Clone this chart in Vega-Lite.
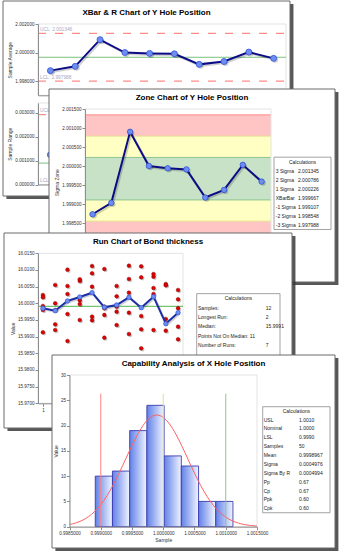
{
"$schema": "https://vega.github.io/schema/vega-lite/v6.json",
"background": "white",
"padding": 0,
"config": {
  "view": {"stroke": null},
  "font": "Liberation Sans",
  "axis": {"labelFont": "Liberation Sans", "titleFont": "Liberation Sans", "labelFontSize": 4.6, "titleFontSize": 5, "titleFontWeight": "normal", "labelColor": "#333333", "titleColor": "#333333", "domainColor": "#8c8c8c", "tickColor": "#8c8c8c", "tickSize": 3, "labelPadding": 1, "titlePadding": 2, "grid": false, "labelFlush": false, "labelOverlap": false, "zindex": 1},
  "text": {"font": "Liberation Sans", "fontSize": 5, "color": "#222222"}
},
"datasets": {
  "xbar": [{"sample":1,"value":1.99873},{"sample":2,"value":1.99903},{"sample":3,"value":2.0009},{"sample":4,"value":2.0},{"sample":5,"value":1.99994},{"sample":6,"value":1.99991},{"sample":7,"value":1.99917},{"sample":8,"value":1.99937},{"sample":9,"value":2.00003},{"sample":10,"value":1.99959}],
  "xbarLimits": [{"name":"UCL","value":2.001346,"label":"UCL: 2.001346"},{"name":"LCL","value":1.997988,"label":"LCL: 1.997988"}],
  "rng": [{"sample":1,"range":0.00124},{"sample":2,"range":0.00052},{"sample":3,"range":0.00081},{"sample":4,"range":0.00139},{"sample":5,"range":0.00035},{"sample":6,"range":0.00098},{"sample":7,"range":0.00066},{"sample":8,"range":0.00112},{"sample":9,"range":0.00047},{"sample":10,"range":0.00139}],
  "rngLimits": [{"name":"UCL","value":0.002918,"label":"UCL"},{"name":"LCL","value":0,"label":"LCL"}],
  "zones": [{"lo":2.000786,"hi":2.001345,"zone":"outer"},{"lo":2.000226,"hi":2.000786,"zone":"middle"},{"lo":1.999107,"hi":2.000226,"zone":"inner"},{"lo":1.998548,"hi":1.999107,"zone":"middle"},{"lo":1.997988,"hi":1.998548,"zone":"outer"}],
  "zoneLines": [{"value":2.001345,"kind":"3"},{"value":2.000786,"kind":"2"},{"value":2.000226,"kind":"1"},{"value":1.999107,"kind":"1"},{"value":1.998548,"kind":"2"},{"value":1.997988,"kind":"3"}],
  "zoneCalc": [{"row":0,"label":"Calculations","value":""},{"row":1,"label":"3 Sigma","value":"2.001345"},{"row":2,"label":"2 Sigma","value":"2.000786"},{"row":3,"label":"1 Sigma","value":"2.000226"},{"row":4,"label":"XBarBar","value":"1.999667"},{"row":5,"label":"-1 Sigma","value":"1.999107"},{"row":6,"label":"-2 Sigma","value":"1.998548"},{"row":7,"label":"-3 Sigma","value":"1.997988"}],
  "bond": [
    {"sample":1,"value":16.00249},{"sample":1,"value":16.0018},{"sample":1,"value":15.99919},{"sample":1,"value":15.99799},{"sample":1,"value":15.9913},
    {"sample":2,"value":16.00549},{"sample":2,"value":16.0},{"sample":2,"value":15.99799},{"sample":2,"value":15.9937},{"sample":2,"value":15.99199},
    {"sample":3,"value":16.01008},{"sample":3,"value":16.00519},{"sample":3,"value":16.00279},{"sample":3,"value":15.99679},{"sample":3,"value":15.98869},
    {"sample":4,"value":16.00669},{"sample":4,"value":16.0072},{"sample":4,"value":16.0009},{"sample":4,"value":15.99979},{"sample":4,"value":15.99499},
    {"sample":5,"value":16.01119},{"sample":5,"value":16.009},{"sample":5,"value":16.00498},{"sample":5,"value":15.99598},{"sample":5,"value":15.9949},
    {"sample":6,"value":16.01029},{"sample":6,"value":15.9985},{"sample":6,"value":15.98968},{"sample":6,"value":15.999},{"sample":6,"value":15.9965},
    {"sample":7,"value":16.00519},{"sample":7,"value":16.0021},{"sample":7,"value":15.99898},{"sample":7,"value":15.99748},{"sample":7,"value":15.99349},
    {"sample":8,"value":16.01128},{"sample":8,"value":16.00729},{"sample":8,"value":16.00318},{"sample":8,"value":15.99718},{"sample":8,"value":15.99079},
    {"sample":9,"value":16.0111},{"sample":9,"value":16.0078},{"sample":9,"value":15.99619},{"sample":9,"value":15.9922},{"sample":9,"value":15.9865},
    {"sample":10,"value":16.00879},{"sample":10,"value":16.00798},{"sample":10,"value":16.00459},{"sample":10,"value":16.00279},{"sample":10,"value":15.99199},
    {"sample":11,"value":16.00579},{"sample":11,"value":16.0054},{"sample":11,"value":15.99529},{"sample":11,"value":15.99178},{"sample":11,"value":15.9712},
    {"sample":12,"value":16.00399},{"sample":12,"value":16.0012},{"sample":12,"value":15.99298},{"sample":12,"value":15.9892},{"sample":12,"value":15.99853}],
  "bondMeans": [{"sample":1,"value":15.9985},{"sample":2,"value":15.99778},{"sample":3,"value":16.00069},{"sample":4,"value":16.00189},{"sample":5,"value":16.00318},{"sample":6,"value":15.9988},{"sample":7,"value":15.99949},{"sample":8,"value":16.0018},{"sample":9,"value":15.99868},{"sample":10,"value":16.00198},{"sample":11,"value":15.99388},{"sample":12,"value":15.99718}],
  "runCalc": [{"row":0,"label":"Calculations","value":""},{"row":1,"label":"Samples:","value":"12"},{"row":2,"label":"Longest Run:","value":"2"},{"row":3,"label":"Median:","value":"15.9991"},{"row":4,"label":"Points Not On Median: 11","value":""},{"row":5,"label":"Number of Runs:","value":"7"}],
  "hist": [{"start":0.998912,"end":0.999187,"count":10},{"start":0.999187,"end":0.999463,"count":11},{"start":0.999463,"end":0.999738,"count":19},{"start":0.999738,"end":1.000014,"count":24},{"start":1.000014,"end":1.000289,"count":14},{"start":1.000289,"end":1.000565,"count":12},{"start":1.000565,"end":1.00084,"count":5},{"start":1.00084,"end":1.001115,"count":5}],
  "curve": [{"x":0.9985,"y":0.43},{"x":0.9986,"y":0.74},{"x":0.9987,"y":1.23},{"x":0.9988,"y":1.95},{"x":0.9989,"y":2.97},{"x":0.999,"y":4.35},{"x":0.9991,"y":6.13},{"x":0.9992,"y":8.29},{"x":0.9993,"y":10.76},{"x":0.9994,"y":13.42},{"x":0.9995,"y":16.07},{"x":0.9996,"y":18.48},{"x":0.9997,"y":20.42},{"x":0.9998,"y":21.67},{"x":0.9999,"y":22.08},{"x":1.0,"y":21.61},{"x":1.0001,"y":20.31},{"x":1.0002,"y":18.34},{"x":1.0003,"y":15.9},{"x":1.0004,"y":13.24},{"x":1.0005,"y":10.59},{"x":1.0006,"y":8.13},{"x":1.0007,"y":6.0},{"x":1.0008,"y":4.25},{"x":1.0009,"y":2.89},{"x":1.001,"y":1.89},{"x":1.0011,"y":1.19},{"x":1.0012,"y":0.72},{"x":1.0013,"y":0.41},{"x":1.0014,"y":0.23},{"x":1.0015,"y":0.12}],
  "specs": [{"name":"LSL","value":0.999},{"name":"Nominal","value":1.0},{"name":"USL","value":1.001}],
  "capCalc": [{"row":0,"label":"Calculations","value":""},{"row":1,"label":"USL","value":"1.0010"},{"row":2,"label":"Nominal","value":"1.0000"},{"row":3,"label":"LSL","value":"0.9990"},{"row":4,"label":"Samples","value":"50"},{"row":5,"label":"Mean","value":"0.9998967"},{"row":6,"label":"Sigma","value":"0.0004976"},{"row":7,"label":"Sigma By R","value":"0.0004994"},{"row":8,"label":"Pp","value":"0.67"},{"row":9,"label":"Cp","value":"0.67"},{"row":10,"label":"Ppk","value":"0.60"},{"row":11,"label":"Cpk","value":"0.60"}]
},
"spacing": 0,
"bounds": "flush",
"vconcat": [
 {
  "width": 340, "height": 89,
  "resolve": {"scale": {"x": "independent", "y": "independent"}},
  "layer": [
   {"layer": [
    {"data": {"values": [{}]}, "mark": {"type": "rect", "fill": "#3a3a3a", "opacity": 0.85},
     "encoding": {"x": {"datum": 0.012, "type": "quantitative", "scale": {"domain": [0, 1], "range": [3, 290], "nice": false, "zero": false}, "axis": null}, "x2": {"datum": 1.012}, "y": {"datum": 0.016, "type": "quantitative", "scale": {"domain": [0, 1], "range": [1, 196], "nice": false, "zero": false}, "axis": null}, "y2": {"datum": 1.016}}},
    {"data": {"values": [{}]}, "mark": {"type": "rect", "fill": "white", "stroke": "#6a6a6a", "strokeWidth": 1},
     "encoding": {"x": {"datum": 0, "type": "quantitative", "scale": {"domain": [0, 1], "range": [3, 290], "nice": false, "zero": false}, "axis": null}, "x2": {"datum": 1}, "y": {"datum": 0, "type": "quantitative", "scale": {"domain": [0, 1], "range": [1, 196], "nice": false, "zero": false}, "axis": null}, "y2": {"datum": 1}}},
    {"data": {"values": [{"title": "XBar & R Chart of Y Hole Position"}]}, "mark": {"type": "text", "fontSize": 8, "fontWeight": "bold", "color": "#000000", "align": "center", "baseline": "middle"},
     "encoding": {"x": {"datum": 0.5, "type": "quantitative", "scale": {"domain": [0, 1], "range": [3, 290], "nice": false, "zero": false}, "axis": null}, "y": {"datum": 0.0615, "type": "quantitative", "scale": {"domain": [0, 1], "range": [1, 196], "nice": false, "zero": false}, "axis": null}, "text": {"field": "title"}}}
   ]},
   {"layer": [
    {"data": {"values": [{}]}, "mark": {"type": "rect", "fillOpacity": 0, "stroke": "#e3e3e3", "strokeWidth": 1},
     "encoding": {"x": {"datum": 0.5, "type": "quantitative", "scale": {"domain": [0.5, 10.5], "range": [38, 286], "nice": false, "zero": false}, "axis": {"orient": "bottom", "offset": 6.3, "labels": false, "ticks": false, "title": null, "zindex": 1, "labelOverlap": false, "tickCount": 30}}, "x2": {"datum": 10.5}, "y": {"datum": 1.997, "type": "quantitative", "scale": {"domain": [1.997, 2.002], "range": [95.3, 24], "nice": false, "zero": false}, "axis": {"orient": "left", "offset": -38, "values": [1.998, 2.0, 2.002], "format": ".6f", "title": "Sample Average", "zindex": 1, "labelOverlap": false, "tickCount": 30}}, "y2": {"datum": 2.002}}},
    {"data": {"values": [{"value": 1.999667}]}, "mark": {"type": "rule", "stroke": "#7cc27c", "strokeWidth": 1},
     "encoding": {"x": {"datum": 0.5, "type": "quantitative", "scale": {"domain": [0.5, 10.5], "range": [38, 286], "nice": false, "zero": false}}, "x2": {"datum": 10.5}, "y": {"field": "value", "type": "quantitative", "scale": {"domain": [1.997, 2.002], "range": [95.3, 24], "nice": false, "zero": false}}}},
    {"data": {"name": "xbarLimits"}, "mark": {"type": "rule", "stroke": "#ff8a8a", "strokeWidth": 1.3, "strokeDash": [8, 9]},
     "encoding": {"x": {"datum": 0.5, "type": "quantitative", "scale": {"domain": [0.5, 10.5], "range": [38, 286], "nice": false, "zero": false}}, "x2": {"datum": 10.5}, "y": {"field": "value", "type": "quantitative", "scale": {"domain": [1.997, 2.002], "range": [95.3, 24], "nice": false, "zero": false}}}},
    {"data": {"name": "xbarLimits"}, "mark": {"type": "text", "align": "left", "baseline": "bottom", "dy": -1.5, "fontSize": 4.8, "color": "#a7a7c2"},
     "encoding": {"x": {"datum": 0.58, "type": "quantitative", "scale": {"domain": [0.5, 10.5], "range": [38, 286], "nice": false, "zero": false}}, "y": {"field": "value", "type": "quantitative", "scale": {"domain": [1.997, 2.002], "range": [95.3, 24], "nice": false, "zero": false}}, "text": {"field": "label"}}},
    {"data": {"name": "xbar"}, "mark": {"type": "line", "stroke": "#000000", "strokeOpacity": 0.18, "strokeWidth": 2, "xOffset": 1.5, "yOffset": 1.5},
     "encoding": {"x": {"field": "sample", "type": "quantitative", "scale": {"domain": [0.5, 10.5], "range": [38, 286], "nice": false, "zero": false}}, "y": {"field": "value", "type": "quantitative", "scale": {"domain": [1.997, 2.002], "range": [95.3, 24], "nice": false, "zero": false}}}},
    {"data": {"name": "xbar"}, "mark": {"type": "line", "stroke": "#0c0c86", "strokeWidth": 2},
     "encoding": {"x": {"field": "sample", "type": "quantitative", "scale": {"domain": [0.5, 10.5], "range": [38, 286], "nice": false, "zero": false}}, "y": {"field": "value", "type": "quantitative", "scale": {"domain": [1.997, 2.002], "range": [95.3, 24], "nice": false, "zero": false}}}},
    {"data": {"name": "xbar"}, "mark": {"type": "circle", "fill": "#000000", "opacity": 0.2, "size": 36, "xOffset": 1.5, "yOffset": 1.5},
     "encoding": {"x": {"field": "sample", "type": "quantitative", "scale": {"domain": [0.5, 10.5], "range": [38, 286], "nice": false, "zero": false}}, "y": {"field": "value", "type": "quantitative", "scale": {"domain": [1.997, 2.002], "range": [95.3, 24], "nice": false, "zero": false}}}},
    {"data": {"name": "xbar"}, "mark": {"type": "circle", "fill": "#6d8df0", "stroke": "#3253d6", "strokeWidth": 0.8, "size": 36, "opacity": 1},
     "encoding": {"x": {"field": "sample", "type": "quantitative", "scale": {"domain": [0.5, 10.5], "range": [38, 286], "nice": false, "zero": false}}, "y": {"field": "value", "type": "quantitative", "scale": {"domain": [1.997, 2.002], "range": [95.3, 24], "nice": false, "zero": false}}}}
   ]},
   {"layer": [
    {"data": {"values": [{}]}, "mark": {"type": "rect", "fillOpacity": 0, "stroke": "#e3e3e3", "strokeWidth": 1},
     "encoding": {"x": {"datum": 0.5, "type": "quantitative", "scale": {"domain": [0.5, 10.5], "range": [38, 286], "nice": false, "zero": false}, "axis": {"orient": "bottom", "offset": 95.5, "values": [1,2,3,4,5,6,7,8,9,10], "format": "d", "title": null, "zindex": 1, "labelOverlap": false, "tickCount": 30}}, "x2": {"datum": 10.5}, "y": {"datum": 0, "type": "quantitative", "scale": {"domain": [0, 0.0034], "range": [184.5, 103], "nice": false, "zero": false}, "axis": {"orient": "left", "offset": -38, "values": [0, 0.001, 0.002, 0.003], "format": ".6f", "title": "Sample Range", "zindex": 1, "labelOverlap": false, "tickCount": 30}}, "y2": {"datum": 0.0034}}},
    {"data": {"values": [{"value": 0.000893}]}, "mark": {"type": "rule", "stroke": "#7cc27c", "strokeWidth": 1},
     "encoding": {"x": {"datum": 0.5, "type": "quantitative", "scale": {"domain": [0.5, 10.5], "range": [38, 286], "nice": false, "zero": false}}, "x2": {"datum": 10.5}, "y": {"field": "value", "type": "quantitative", "scale": {"domain": [0, 0.0034], "range": [184.5, 103], "nice": false, "zero": false}}}},
    {"data": {"name": "rngLimits"}, "transform": [{"filter": "datum.name == 'UCL'"}], "mark": {"type": "rule", "stroke": "#ff8a8a", "strokeWidth": 1.3, "strokeDash": [8, 9]},
     "encoding": {"x": {"datum": 0.5, "type": "quantitative", "scale": {"domain": [0.5, 10.5], "range": [38, 286], "nice": false, "zero": false}}, "x2": {"datum": 10.5}, "y": {"field": "value", "type": "quantitative", "scale": {"domain": [0, 0.0034], "range": [184.5, 103], "nice": false, "zero": false}}}},
    {"data": {"name": "rngLimits"}, "mark": {"type": "text", "align": "left", "baseline": "bottom", "dy": -1.5, "fontSize": 4.8, "color": "#a7a7c2"},
     "encoding": {"x": {"datum": 0.58, "type": "quantitative", "scale": {"domain": [0.5, 10.5], "range": [38, 286], "nice": false, "zero": false}}, "y": {"field": "value", "type": "quantitative", "scale": {"domain": [0, 0.0034], "range": [184.5, 103], "nice": false, "zero": false}}, "text": {"field": "label"}}},
    {"data": {"name": "rng"}, "mark": {"type": "line", "stroke": "#0c0c86", "strokeWidth": 2},
     "encoding": {"x": {"field": "sample", "type": "quantitative", "scale": {"domain": [0.5, 10.5], "range": [38, 286], "nice": false, "zero": false}}, "y": {"field": "range", "type": "quantitative", "scale": {"domain": [0, 0.0034], "range": [184.5, 103], "nice": false, "zero": false}}}},
    {"data": {"name": "rng"}, "mark": {"type": "circle", "fill": "#6d8df0", "stroke": "#3253d6", "strokeWidth": 0.8, "size": 36, "opacity": 1},
     "encoding": {"x": {"field": "sample", "type": "quantitative", "scale": {"domain": [0.5, 10.5], "range": [38, 286], "nice": false, "zero": false}}, "y": {"field": "range", "type": "quantitative", "scale": {"domain": [0, 0.0034], "range": [184.5, 103], "nice": false, "zero": false}}}}
   ]}
  ]
 },
 {
  "width": 340, "height": 144,
  "resolve": {"scale": {"x": "independent", "y": "independent"}},
  "layer": [
   {"layer": [
    {"data": {"values": [{}]}, "mark": {"type": "rect", "fill": "#3a3a3a", "opacity": 0.85},
     "encoding": {"x": {"datum": 0.012, "type": "quantitative", "scale": {"domain": [0, 1], "range": [49, 335], "nice": false, "zero": false}, "axis": null}, "x2": {"datum": 1.012}, "y": {"datum": 0.016, "type": "quantitative", "scale": {"domain": [0, 1], "range": [0, 193], "nice": false, "zero": false}, "axis": null}, "y2": {"datum": 1.016}}},
    {"data": {"values": [{}]}, "mark": {"type": "rect", "fill": "white", "stroke": "#6a6a6a", "strokeWidth": 1},
     "encoding": {"x": {"datum": 0, "type": "quantitative", "scale": {"domain": [0, 1], "range": [49, 335], "nice": false, "zero": false}, "axis": null}, "x2": {"datum": 1}, "y": {"datum": 0, "type": "quantitative", "scale": {"domain": [0, 1], "range": [0, 193], "nice": false, "zero": false}, "axis": null}, "y2": {"datum": 1}}},
    {"data": {"values": [{"title": "Zone Chart of Y Hole Position"}]}, "mark": {"type": "text", "fontSize": 8, "fontWeight": "bold", "color": "#000000", "align": "center", "baseline": "middle"},
     "encoding": {"x": {"datum": 0.5, "type": "quantitative", "scale": {"domain": [0, 1], "range": [49, 335], "nice": false, "zero": false}, "axis": null}, "y": {"datum": 0.0466, "type": "quantitative", "scale": {"domain": [0, 1], "range": [0, 193], "nice": false, "zero": false}, "axis": null}, "text": {"field": "title"}}}
   ]},
   {"layer": [
    {"data": {"name": "zones"}, "mark": {"type": "rect"},
     "encoding": {
      "x": {"datum": 0.6, "type": "quantitative", "scale": {"domain": [0.6, 10.5], "range": [85, 271], "nice": false, "zero": false}, "axis": {"orient": "bottom", "offset": 22.3, "values": [1,2,3,4,5,6,7,8,9,10], "format": "d", "title": null, "zindex": 1, "labelOverlap": false, "tickCount": 30}},
      "x2": {"datum": 10.5},
      "y": {"field": "lo", "type": "quantitative", "scale": {"domain": [1.99765, 2.0015], "range": [166.3, 20], "nice": false, "zero": false}, "axis": {"orient": "left", "offset": -85, "values": [1.998, 1.9985, 1.999, 1.9995, 2.0, 2.0005, 2.001, 2.0015], "format": ".6f", "title": "Sigma Zone", "zindex": 1, "labelOverlap": false, "tickCount": 30}},
      "y2": {"field": "hi"},
      "fill": {"field": "zone", "type": "nominal", "scale": {"domain": ["outer", "middle", "inner"], "range": ["#ffc5c5", "#ffffc3", "#c7e2c7"]}, "legend": null}}},
    {"data": {"name": "zoneLines"}, "mark": {"type": "rule", "strokeWidth": 1},
     "encoding": {
      "x": {"datum": 0.6, "type": "quantitative", "scale": {"domain": [0.6, 10.5], "range": [85, 271], "nice": false, "zero": false}},
      "x2": {"datum": 10.5},
      "y": {"field": "value", "type": "quantitative", "scale": {"domain": [1.99765, 2.0015], "range": [166.3, 20], "nice": false, "zero": false}},
      "stroke": {"field": "kind", "type": "nominal", "scale": {"domain": ["3", "2", "1"], "range": ["#ff8484", "#e6df8c", "#8dc58d"]}, "legend": null}}},
    {"data": {"values": [{}]}, "mark": {"type": "rect", "fillOpacity": 0, "stroke": "#e3e3e3", "strokeWidth": 1},
     "encoding": {"x": {"datum": 0.6, "type": "quantitative", "scale": {"domain": [0.6, 10.5], "range": [85, 271], "nice": false, "zero": false}}, "x2": {"datum": 10.5}, "y": {"datum": 1.99765, "type": "quantitative", "scale": {"domain": [1.99765, 2.0015], "range": [166.3, 20], "nice": false, "zero": false}}, "y2": {"datum": 2.0015}}},
    {"data": {"name": "xbar"}, "mark": {"type": "line", "stroke": "#000000", "strokeOpacity": 0.18, "strokeWidth": 2, "xOffset": 1.5, "yOffset": 1.5},
     "encoding": {"x": {"field": "sample", "type": "quantitative", "scale": {"domain": [0.6, 10.5], "range": [85, 271], "nice": false, "zero": false}}, "y": {"field": "value", "type": "quantitative", "scale": {"domain": [1.99765, 2.0015], "range": [166.3, 20], "nice": false, "zero": false}}}},
    {"data": {"name": "xbar"}, "mark": {"type": "line", "stroke": "#0c0c86", "strokeWidth": 2},
     "encoding": {"x": {"field": "sample", "type": "quantitative", "scale": {"domain": [0.6, 10.5], "range": [85, 271], "nice": false, "zero": false}}, "y": {"field": "value", "type": "quantitative", "scale": {"domain": [1.99765, 2.0015], "range": [166.3, 20], "nice": false, "zero": false}}}},
    {"data": {"name": "xbar"}, "mark": {"type": "circle", "fill": "#000000", "opacity": 0.2, "size": 30, "xOffset": 1.5, "yOffset": 1.5},
     "encoding": {"x": {"field": "sample", "type": "quantitative", "scale": {"domain": [0.6, 10.5], "range": [85, 271], "nice": false, "zero": false}}, "y": {"field": "value", "type": "quantitative", "scale": {"domain": [1.99765, 2.0015], "range": [166.3, 20], "nice": false, "zero": false}}}},
    {"data": {"name": "xbar"}, "mark": {"type": "circle", "fill": "#6d8df0", "stroke": "#3253d6", "strokeWidth": 0.8, "size": 30, "opacity": 1},
     "encoding": {"x": {"field": "sample", "type": "quantitative", "scale": {"domain": [0.6, 10.5], "range": [85, 271], "nice": false, "zero": false}}, "y": {"field": "value", "type": "quantitative", "scale": {"domain": [1.99765, 2.0015], "range": [166.3, 20], "nice": false, "zero": false}}}}
   ]},
   {"layer": [
    {"data": {"values": [{}]}, "mark": {"type": "rect", "fill": "white", "stroke": "#8c8c8c", "strokeWidth": 0.8},
     "encoding": {"x": {"datum": 0, "type": "quantitative", "scale": {"domain": [0, 1], "range": [274, 331], "nice": false, "zero": false}, "axis": null}, "x2": {"datum": 1}, "y": {"datum": -0.5, "type": "quantitative", "scale": {"domain": [0, 7], "range": [72.7, 136], "nice": false, "zero": false}, "axis": null}, "y2": {"datum": 7.5}}},
    {"data": {"name": "zoneCalc"}, "transform": [{"filter": "datum.row == 0"}], "mark": {"type": "text", "align": "center", "baseline": "middle"},
     "encoding": {"x": {"datum": 0.5, "type": "quantitative", "scale": {"domain": [0, 1], "range": [274, 331], "nice": false, "zero": false}, "axis": null}, "y": {"field": "row", "type": "quantitative", "scale": {"domain": [0, 7], "range": [72.7, 136], "nice": false, "zero": false}, "axis": null}, "text": {"field": "label"}}},
    {"data": {"name": "zoneCalc"}, "transform": [{"filter": "datum.row > 0"}], "mark": {"type": "text", "align": "left", "baseline": "middle"},
     "encoding": {"x": {"datum": 0.03, "type": "quantitative", "scale": {"domain": [0, 1], "range": [274, 331], "nice": false, "zero": false}, "axis": null}, "y": {"field": "row", "type": "quantitative", "scale": {"domain": [0, 7], "range": [72.7, 136], "nice": false, "zero": false}, "axis": null}, "text": {"field": "label"}}},
    {"data": {"name": "zoneCalc"}, "transform": [{"filter": "datum.row > 0"}], "mark": {"type": "text", "align": "left", "baseline": "middle"},
     "encoding": {"x": {"datum": 0.42, "type": "quantitative", "scale": {"domain": [0, 1], "range": [274, 331], "nice": false, "zero": false}, "axis": null}, "y": {"field": "row", "type": "quantitative", "scale": {"domain": [0, 7], "range": [72.7, 136], "nice": false, "zero": false}, "axis": null}, "text": {"field": "value"}}}
   ]}
  ]
 },
 {
  "width": 340, "height": 122,
  "resolve": {"scale": {"x": "independent", "y": "independent"}},
  "layer": [
   {"layer": [
    {"data": {"values": [{}]}, "mark": {"type": "rect", "fill": "#3a3a3a", "opacity": 0.85},
     "encoding": {"x": {"datum": 0.012, "type": "quantitative", "scale": {"domain": [0, 1], "range": [4, 292], "nice": false, "zero": false}, "axis": null}, "x2": {"datum": 1.012}, "y": {"datum": 0.016, "type": "quantitative", "scale": {"domain": [0, 1], "range": [0, 195], "nice": false, "zero": false}, "axis": null}, "y2": {"datum": 1.016}}},
    {"data": {"values": [{}]}, "mark": {"type": "rect", "fill": "white", "stroke": "#6a6a6a", "strokeWidth": 1},
     "encoding": {"x": {"datum": 0, "type": "quantitative", "scale": {"domain": [0, 1], "range": [4, 292], "nice": false, "zero": false}, "axis": null}, "x2": {"datum": 1}, "y": {"datum": 0, "type": "quantitative", "scale": {"domain": [0, 1], "range": [0, 195], "nice": false, "zero": false}, "axis": null}, "y2": {"datum": 1}}},
    {"data": {"values": [{"title": "Run Chart of Bond thickness"}]}, "mark": {"type": "text", "fontSize": 8, "fontWeight": "bold", "color": "#000000", "align": "center", "baseline": "middle"},
     "encoding": {"x": {"datum": 0.5, "type": "quantitative", "scale": {"domain": [0, 1], "range": [4, 292], "nice": false, "zero": false}, "axis": null}, "y": {"datum": 0.0446, "type": "quantitative", "scale": {"domain": [0, 1], "range": [0, 195], "nice": false, "zero": false}, "axis": null}, "text": {"field": "title"}}}
   ]},
   {"layer": [
    {"data": {"values": [{}]}, "mark": {"type": "rect", "fillOpacity": 0, "stroke": "#e3e3e3", "strokeWidth": 1},
     "encoding": {"x": {"datum": 0.6, "type": "quantitative", "scale": {"domain": [0.6, 12.4], "range": [38, 183], "nice": false, "zero": false}, "axis": {"orient": "bottom", "offset": 48.3, "values": [1,2,3,4,5,6,7,8,9,10,11,12], "format": "d", "title": null, "zindex": 1, "labelOverlap": false, "tickCount": 30}}, "x2": {"datum": 12.4}, "y": {"datum": 15.97, "type": "quantitative", "scale": {"domain": [15.97, 16.015], "range": [170.3, 20.3], "nice": false, "zero": false}, "axis": {"orient": "left", "offset": -38, "values": [15.97, 15.975, 15.98, 15.985, 15.99, 15.995, 16.0, 16.005, 16.01, 16.015], "format": ".4f", "title": "Value", "zindex": 1, "labelOverlap": false, "tickCount": 30}}, "y2": {"datum": 16.015}}},
    {"data": {"values": [{"value": 15.9991}]}, "mark": {"type": "rule", "stroke": "#4cb84c", "strokeWidth": 1},
     "encoding": {"x": {"datum": 0.6, "type": "quantitative", "scale": {"domain": [0.6, 12.4], "range": [38, 183], "nice": false, "zero": false}}, "x2": {"datum": 12.4}, "y": {"field": "value", "type": "quantitative", "scale": {"domain": [15.97, 16.015], "range": [170.3, 20.3], "nice": false, "zero": false}}}},
    {"data": {"name": "bond"}, "mark": {"type": "circle", "fill": "#000000", "opacity": 0.22, "size": 14, "xOffset": 1.3, "yOffset": 1.3},
     "encoding": {"x": {"field": "sample", "type": "quantitative", "scale": {"domain": [0.6, 12.4], "range": [38, 183], "nice": false, "zero": false}}, "y": {"field": "value", "type": "quantitative", "scale": {"domain": [15.97, 16.015], "range": [170.3, 20.3], "nice": false, "zero": false}}}},
    {"data": {"name": "bond"}, "mark": {"type": "circle", "fill": "#e00000", "stroke": "#8a0000", "strokeWidth": 0.5, "size": 14, "opacity": 1},
     "encoding": {"x": {"field": "sample", "type": "quantitative", "scale": {"domain": [0.6, 12.4], "range": [38, 183], "nice": false, "zero": false}}, "y": {"field": "value", "type": "quantitative", "scale": {"domain": [15.97, 16.015], "range": [170.3, 20.3], "nice": false, "zero": false}}}},
    {"data": {"name": "bondMeans"}, "mark": {"type": "line", "stroke": "#000000", "strokeOpacity": 0.18, "strokeWidth": 2, "xOffset": 1.3, "yOffset": 1.3},
     "encoding": {"x": {"field": "sample", "type": "quantitative", "scale": {"domain": [0.6, 12.4], "range": [38, 183], "nice": false, "zero": false}}, "y": {"field": "value", "type": "quantitative", "scale": {"domain": [15.97, 16.015], "range": [170.3, 20.3], "nice": false, "zero": false}}}},
    {"data": {"name": "bondMeans"}, "mark": {"type": "line", "stroke": "#1c2ea6", "strokeWidth": 2},
     "encoding": {"x": {"field": "sample", "type": "quantitative", "scale": {"domain": [0.6, 12.4], "range": [38, 183], "nice": false, "zero": false}}, "y": {"field": "value", "type": "quantitative", "scale": {"domain": [15.97, 16.015], "range": [170.3, 20.3], "nice": false, "zero": false}}}},
    {"data": {"name": "bondMeans"}, "mark": {"type": "circle", "fill": "#6d8df0", "stroke": "#3253d6", "strokeWidth": 0.7, "size": 20, "opacity": 1},
     "encoding": {"x": {"field": "sample", "type": "quantitative", "scale": {"domain": [0.6, 12.4], "range": [38, 183], "nice": false, "zero": false}}, "y": {"field": "value", "type": "quantitative", "scale": {"domain": [15.97, 16.015], "range": [170.3, 20.3], "nice": false, "zero": false}}}}
   ]},
   {"layer": [
    {"data": {"values": [{}]}, "mark": {"type": "rect", "fill": "white", "stroke": "#8c8c8c", "strokeWidth": 0.8},
     "encoding": {"x": {"datum": 0, "type": "quantitative", "scale": {"domain": [0, 1], "range": [196.7, 280], "nice": false, "zero": false}, "axis": null}, "x2": {"datum": 1}, "y": {"datum": -0.5, "type": "quantitative", "scale": {"domain": [0, 5], "range": [65.3, 111.8], "nice": false, "zero": false}, "axis": null}, "y2": {"datum": 8}}},
    {"data": {"name": "runCalc"}, "transform": [{"filter": "datum.row == 0"}], "mark": {"type": "text", "align": "center", "baseline": "middle"},
     "encoding": {"x": {"datum": 0.5, "type": "quantitative", "scale": {"domain": [0, 1], "range": [196.7, 280], "nice": false, "zero": false}, "axis": null}, "y": {"field": "row", "type": "quantitative", "scale": {"domain": [0, 5], "range": [65.3, 111.8], "nice": false, "zero": false}, "axis": null}, "text": {"field": "label"}}},
    {"data": {"name": "runCalc"}, "transform": [{"filter": "datum.row > 0"}], "mark": {"type": "text", "align": "left", "baseline": "middle"},
     "encoding": {"x": {"datum": 0.016, "type": "quantitative", "scale": {"domain": [0, 1], "range": [196.7, 280], "nice": false, "zero": false}, "axis": null}, "y": {"field": "row", "type": "quantitative", "scale": {"domain": [0, 5], "range": [65.3, 111.8], "nice": false, "zero": false}, "axis": null}, "text": {"field": "label"}}},
    {"data": {"name": "runCalc"}, "transform": [{"filter": "datum.row > 0"}], "mark": {"type": "text", "align": "left", "baseline": "middle"},
     "encoding": {"x": {"datum": 0.83, "type": "quantitative", "scale": {"domain": [0, 1], "range": [196.7, 280], "nice": false, "zero": false}, "axis": null}, "y": {"field": "row", "type": "quantitative", "scale": {"domain": [0, 5], "range": [65.3, 111.8], "nice": false, "zero": false}, "axis": null}, "text": {"field": "value"}}}
   ]}
  ]
 },
 {
  "width": 340, "height": 193,
  "resolve": {"scale": {"x": "independent", "y": "independent"}},
  "layer": [
   {"layer": [
    {"data": {"values": [{}]}, "mark": {"type": "rect", "fill": "#3a3a3a", "opacity": 0.85},
     "encoding": {"x": {"datum": 0.012, "type": "quantitative", "scale": {"domain": [0, 1], "range": [52, 335], "nice": false, "zero": false}, "axis": null}, "x2": {"datum": 1.012}, "y": {"datum": 0.016, "type": "quantitative", "scale": {"domain": [0, 1], "range": [0, 193], "nice": false, "zero": false}, "axis": null}, "y2": {"datum": 1.016}}},
    {"data": {"values": [{}]}, "mark": {"type": "rect", "fill": "white", "stroke": "#6a6a6a", "strokeWidth": 1},
     "encoding": {"x": {"datum": 0, "type": "quantitative", "scale": {"domain": [0, 1], "range": [52, 335], "nice": false, "zero": false}, "axis": null}, "x2": {"datum": 1}, "y": {"datum": 0, "type": "quantitative", "scale": {"domain": [0, 1], "range": [0, 193], "nice": false, "zero": false}, "axis": null}, "y2": {"datum": 1}}},
    {"data": {"values": [{"title": "Capability Analysis of X Hole Position"}]}, "mark": {"type": "text", "fontSize": 8, "fontWeight": "bold", "color": "#000000", "align": "center", "baseline": "middle"},
     "encoding": {"x": {"datum": 0.5, "type": "quantitative", "scale": {"domain": [0, 1], "range": [52, 335], "nice": false, "zero": false}, "axis": null}, "y": {"datum": 0.048, "type": "quantitative", "scale": {"domain": [0, 1], "range": [0, 193], "nice": false, "zero": false}, "axis": null}, "text": {"field": "title"}}}
   ]},
   {"layer": [
    {"data": {"values": [{}]}, "mark": {"type": "rect", "fillOpacity": 0, "stroke": "#e3e3e3", "strokeWidth": 1},
     "encoding": {"x": {"datum": 0.9985, "type": "quantitative", "scale": {"domain": [0.9985, 1.0015], "range": [69.5, 257], "nice": false, "zero": false}, "axis": {"orient": "bottom", "offset": -21.3, "values": [0.9985, 0.999, 0.9995, 1.0, 1.0005, 1.001, 1.0015], "format": ".7f", "title": "Sample", "zindex": 1, "labelOverlap": false, "tickCount": 30}}, "x2": {"datum": 1.0015}, "y": {"datum": 0, "type": "quantitative", "scale": {"domain": [0, 30], "range": [171.7, 20], "nice": false, "zero": false}, "axis": {"orient": "left", "offset": -69.5, "values": [0, 5, 10, 15, 20, 25, 30], "format": "d", "title": "Value", "zindex": 1, "labelOverlap": false, "tickCount": 30}}, "y2": {"datum": 30}}},
    {"data": {"name": "hist"}, "mark": {"type": "rect", "stroke": "#3b3bb0", "strokeWidth": 0.9, "fill": {"gradient": "linear", "x1": 0, "y1": 0, "x2": 1, "y2": 0, "stops": [{"offset": 0, "color": "#6181e8"}, {"offset": 1, "color": "#f2f5ff"}]}},
     "encoding": {"x": {"field": "start", "type": "quantitative", "scale": {"domain": [0.9985, 1.0015], "range": [69.5, 257], "nice": false, "zero": false}}, "x2": {"field": "end"}, "y": {"field": "count", "type": "quantitative", "scale": {"domain": [0, 30], "range": [171.7, 20], "nice": false, "zero": false}}, "y2": {"datum": 0}}},
    {"data": {"name": "curve"}, "mark": {"type": "line", "stroke": "#ff6262", "strokeWidth": 1, "interpolate": "monotone"},
     "encoding": {"x": {"field": "x", "type": "quantitative", "scale": {"domain": [0.9985, 1.0015], "range": [69.5, 257], "nice": false, "zero": false}}, "y": {"field": "y", "type": "quantitative", "scale": {"domain": [0, 30], "range": [171.7, 20], "nice": false, "zero": false}}}},
    {"data": {"name": "specs"}, "mark": {"type": "rule", "strokeWidth": 1},
     "encoding": {"x": {"field": "value", "type": "quantitative", "scale": {"domain": [0.9985, 1.0015], "range": [69.5, 257], "nice": false, "zero": false}}, "y": {"datum": 0, "type": "quantitative", "scale": {"domain": [0, 30], "range": [171.7, 20], "nice": false, "zero": false}}, "y2": {"datum": 26.3}, "stroke": {"field": "name", "type": "nominal", "scale": {"domain": ["LSL", "Nominal", "USL"], "range": ["#ff7070", "#5fb35f", "#ff7070"]}, "legend": null}}}
   ]},
   {"layer": [
    {"data": {"values": [{}]}, "mark": {"type": "rect", "fill": "white", "stroke": "#8c8c8c", "strokeWidth": 0.8},
     "encoding": {"x": {"datum": 0, "type": "quantitative", "scale": {"domain": [0, 1], "range": [262.7, 330], "nice": false, "zero": false}, "axis": null}, "x2": {"datum": 1}, "y": {"datum": -0.45, "type": "quantitative", "scale": {"domain": [0, 11], "range": [55.7, 153.3], "nice": false, "zero": false}, "axis": null}, "y2": {"datum": 11.5}}},
    {"data": {"name": "capCalc"}, "transform": [{"filter": "datum.row == 0"}], "mark": {"type": "text", "align": "center", "baseline": "middle"},
     "encoding": {"x": {"datum": 0.5, "type": "quantitative", "scale": {"domain": [0, 1], "range": [262.7, 330], "nice": false, "zero": false}, "axis": null}, "y": {"field": "row", "type": "quantitative", "scale": {"domain": [0, 11], "range": [55.7, 153.3], "nice": false, "zero": false}, "axis": null}, "text": {"field": "label"}}},
    {"data": {"name": "capCalc"}, "transform": [{"filter": "datum.row > 0"}], "mark": {"type": "text", "align": "left", "baseline": "middle"},
     "encoding": {"x": {"datum": 0.015, "type": "quantitative", "scale": {"domain": [0, 1], "range": [262.7, 330], "nice": false, "zero": false}, "axis": null}, "y": {"field": "row", "type": "quantitative", "scale": {"domain": [0, 11], "range": [55.7, 153.3], "nice": false, "zero": false}, "axis": null}, "text": {"field": "label"}}},
    {"data": {"name": "capCalc"}, "transform": [{"filter": "datum.row > 0"}], "mark": {"type": "text", "align": "left", "baseline": "middle"},
     "encoding": {"x": {"datum": 0.54, "type": "quantitative", "scale": {"domain": [0, 1], "range": [262.7, 330], "nice": false, "zero": false}, "axis": null}, "y": {"field": "row", "type": "quantitative", "scale": {"domain": [0, 11], "range": [55.7, 153.3], "nice": false, "zero": false}, "axis": null}, "text": {"field": "value"}}}
   ]}
  ]
 }
]
}
